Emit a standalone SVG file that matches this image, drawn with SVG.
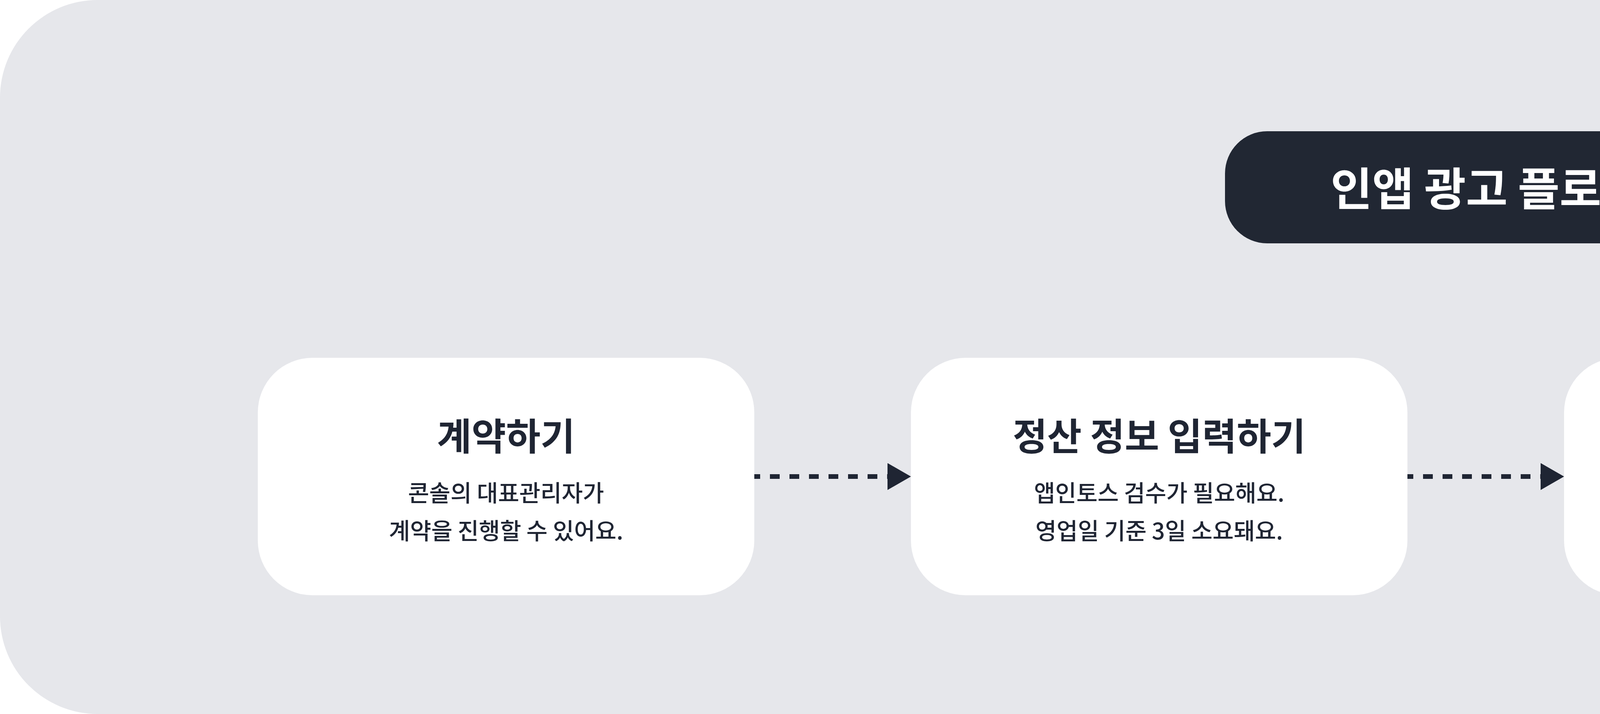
<svg xmlns="http://www.w3.org/2000/svg" width="7604" height="1828" viewBox="0 0 7604 1828">
<style>
.bg{fill:#e6e7eb}
.card{fill:#ffffff}
.pill{fill:#212733}
.t{font-family:"Noto Sans CJK KR","Noto Sans",sans-serif;text-anchor:middle;fill:#1f2533}
.pt{font-family:"Noto Sans CJK KR","Noto Sans",sans-serif;text-anchor:middle;fill:#ffffff;font-size:116px;font-weight:700}
.title{font-size:96px;font-weight:700}
.sub{font-size:59px;font-weight:500}
.conn{stroke:#1f2533;stroke-width:12;stroke-dasharray:25 25;stroke-dashoffset:10;fill:none}
</style>
<defs>
<marker id="ah" markerUnits="userSpaceOnUse" markerWidth="60" markerHeight="69" refX="0" refY="34.5" orient="auto" viewBox="0 0 60 69">
<path d="M0,0 L60,34.5 L0,69 Z" fill="#1f2533"/>
</marker>
</defs>
<rect class="bg" x="0" y="0" width="7604" height="1828" rx="250" ry="250"/>
<g id="header">
<rect class="pill" x="3136" y="336" width="1339" height="287" rx="108" ry="108"/>
<text class="pt" x="3806" y="526">인앱 광고 플로우</text>
</g>
<g id="connectors">
<line class="conn" x1="1931" y1="1220" x2="2272" y2="1220" marker-end="url(#ah)"/>
<line class="conn" x1="3603" y1="1220" x2="3944" y2="1220" marker-end="url(#ah)"/>
<line class="conn" x1="5276" y1="1220" x2="5616" y2="1220" marker-end="url(#ah)"/>
</g>
<g id="step1">
<rect class="card" x="660" y="916" width="1271" height="608" rx="140" ry="140"/>
<text class="t title" x="1295.5" y="1152">계약하기</text>
<text class="t sub" x="1295.5" y="1284">콘솔의 대표관리자가</text>
<text class="t sub" x="1295.5" y="1381">계약을 진행할 수 있어요.</text>
</g>
<g id="step2">
<rect class="card" x="2332" y="916" width="1271" height="608" rx="140" ry="140"/>
<text class="t title" x="2967.5" y="1152">정산 정보 입력하기</text>
<text class="t sub" x="2967.5" y="1284">앱인토스 검수가 필요해요.</text>
<text class="t sub" x="2967.5" y="1381">영업일 기준 3일 소요돼요.</text>
</g>
<g id="step3">
<rect class="card" x="4004" y="916" width="1272" height="608" rx="140" ry="140"/>
<text class="t title" x="4640" y="1152">광고 그룹 생성하기</text>
<text class="t sub" x="4640" y="1284">콘솔의 인앱 광고 2.0에서</text>
<text class="t sub" x="4640" y="1381">광고 ID를 채번할 수 있어요.</text>
</g>
<g id="step4">
<rect class="card" x="5676" y="916" width="1271" height="608" rx="140" ry="140"/>
<text class="t title" x="6311.5" y="1152">개발하기</text>
<text class="t sub" x="6311.5" y="1284">좌측의 ‘개발하기’ 메뉴를 따라</text>
<text class="t sub" x="6311.5" y="1381">개발을 진행해 주세요.</text>
</g>
</svg>
